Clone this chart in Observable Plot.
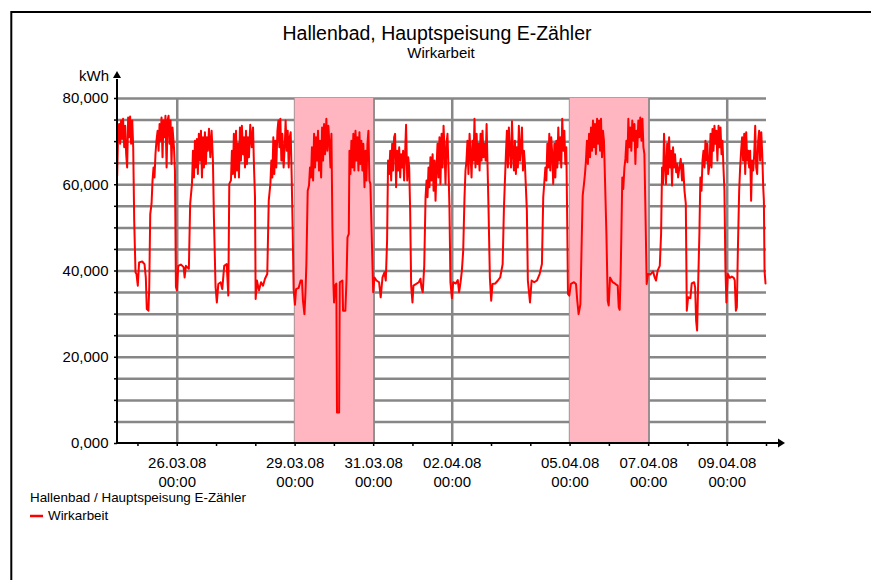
<!DOCTYPE html>
<html><head><meta charset="utf-8">
<script src="https://cdn.jsdelivr.net/npm/d3@7"></script>
<script src="https://cdn.jsdelivr.net/npm/@observablehq/plot@0.6"></script>
<style>
html,body{margin:0;padding:0;background:#fff;}
#chart{position:relative;width:871px;height:580px;overflow:hidden;}
#chart svg{display:block;}
</style></head><body><div id="chart"></div>
<script>
const title = "Hallenbad, Hauptspeisung E-Zähler";
const subtitle = "Wirkarbeit";
const unit = "kWh";
const legendTitle = "Hallenbad / Hauptspeisung E-Zähler";
const seriesName = "Wirkarbeit";
const seriesStart = "24.03.08 00:00";

// hours since seriesStart
const hours = [
11.3,11.9,12.5,13.1,13.7,14.3,14.9,15.6,16.2,16.8,
17.4,18.0,18.6,19.2,19.8,20.5,21.1,21.7,22.5,23.1,
23.9,24.7,26.6,28.0,28.8,29.4,30.4,30.9,31.5,32.3,
32.9,33.5,34.1,34.7,35.3,36.0,36.6,37.2,37.8,38.4,
39.0,39.6,40.2,40.8,41.5,42.1,42.7,43.3,43.9,44.5,
45.1,46.0,46.6,47.2,47.8,48.6,50.2,51.9,52.5,53.3,
55.1,55.9,57.0,57.6,58.2,58.8,59.4,60.0,60.6,61.2,
61.8,62.5,63.1,63.7,64.3,64.9,65.5,66.1,66.7,67.4,
68.2,69.0,69.8,70.4,71.4,72.2,73.1,74.5,75.5,76.7,
78.2,79.2,79.8,80.8,81.4,82.0,82.6,83.3,83.9,84.5,
85.1,85.7,86.3,86.9,87.5,88.2,88.8,89.4,90.0,90.6,
91.2,91.8,92.6,93.5,94.3,94.9,95.5,95.9,96.7,97.9,
99.2,100.4,101.6,103.0,103.9,104.9,105.5,106.1,106.7,107.3,
107.9,108.5,109.2,109.8,110.4,111.0,111.6,112.2,113.0,113.8,
114.2,114.9,115.5,116.1,116.7,117.3,117.9,118.5,119.1,119.9,
120.6,122.2,123.4,124.2,124.8,125.7,126.3,126.9,127.7,128.5,
129.1,129.7,130.3,131.0,131.6,132.2,132.8,133.4,134.0,134.6,
135.2,135.9,136.5,137.1,137.7,138.3,139.1,139.7,140.3,140.9,
141.6,142.2,142.8,143.4,143.8,144.4,145.2,145.6,146.9,147.3,
148.9,149.3,150.7,151.4,152.0,152.8,153.2,153.8,154.4,155.0,
155.6,156.2,156.9,157.5,158.1,158.7,159.3,159.9,160.5,161.1,
161.7,162.4,163.0,163.6,164.2,164.8,165.4,166.0,166.8,167.7,
168.5,169.7,171.3,172.3,173.4,174.6,175.4,176.2,176.8,177.5,
178.1,178.7,179.3,179.9,180.5,181.1,181.7,182.3,182.9,183.6,
184.2,184.8,185.4,186.0,186.6,187.2,187.8,188.5,189.1,189.7,
190.3,190.9,191.7,192.3,194.0,195.6,196.6,197.2,198.0,198.9,
199.7,200.3,200.9,201.5,202.1,202.7,203.3,204.0,204.6,205.2,
205.8,206.4,207.0,207.6,208.2,208.8,209.5,210.1,210.7,211.3,
211.9,212.5,213.1,213.7,214.3,214.9,215.8,216.6,218.2,219.4,
220.2,221.1,221.9,222.7,223.5,224.1,224.7,225.3,225.9,226.6,
227.2,227.8,228.4,229.0,229.6,230.2,230.9,231.5,232.1,232.7,
233.3,233.9,234.5,235.1,235.7,236.4,237.0,237.6,238.2,239.0,
239.8,240.6,242.3,243.9,245.3,246.8,247.6,248.2,248.8,249.4,
250.0,250.6,251.2,251.9,252.5,253.1,253.7,254.3,254.9,255.5,
256.1,256.7,257.4,258.0,258.6,259.2,259.8,260.4,261.0,261.6,
262.2,263.5,264.5,266.1,267.8,269.4,270.8,271.6,272.2,272.9,
273.5,274.1,274.7,275.3,275.9,276.5,277.1,277.7,278.4,279.0,
279.6,280.2,280.8,281.4,282.0,282.6,283.2,283.9,284.5,285.1,
285.7,286.3,286.7,287.5,288.5,290.4,291.6,292.4,293.2,294.3,
295.1,295.7,296.5,297.1,297.7,298.3,298.9,299.6,300.2,300.8,
301.4,302.0,302.6,303.2,303.8,304.5,305.1,305.7,306.3,306.9,
307.5,308.1,308.7,309.3,310.2,311.0,311.6,312.4,314.0,315.7,
317.1,317.7,318.3,318.9,319.3,319.9,320.5,321.2,321.8,322.4,
323.0,323.6,324.2,324.8,325.4,326.0,326.7,327.3,327.9,328.5,
329.1,329.7,330.3,330.9,331.6,332.2,332.8,333.4,334.0,334.8,
335.6,337.1,338.7,339.7,340.5,341.5,342.8,343.6,344.2,344.8,
345.4,346.0,346.6,347.3,347.9,348.5,349.1,349.7,350.3,350.9,
351.5,352.1,352.8,353.4,354.0,354.8,355.6,356.4,357.0,357.9,
358.7,359.3,360.1,361.5,362.3,363.8,364.4,365.0,365.6,366.2,
367.0,367.6,368.3,368.9,369.5,370.1,370.7,371.3,371.9,372.5,
373.2,373.8,374.4,375.0,375.6,376.2,376.8,377.4,378.0,378.7,
379.3,379.9,380.5,381.1,381.7,382.3,382.9,383.5,384.4,385.6,
386.8,388.0,388.6,389.3,389.9,390.5,391.3,391.9,392.5,393.1,
393.7,394.4,395.0,395.6,396.2,396.8,397.4,398.0,398.6,399.2,
399.9,400.5,401.1,401.7,402.3,402.9,403.5,404.1,404.8,405.4,
406.0,406.4,406.8,407.4
];

// Wirkarbeit in kWh
const kwh = [
62.1,72.5,74.1,69.5,74.9,70.6,75.3,68.7,73.7,67.1,
64.0,75.6,71.0,75.8,69.5,74.9,68.7,51.7,39.7,39.3,
36.6,42.0,42.2,41.6,38.5,31.2,30.8,36.3,53.2,55.6,
61.0,64.0,61.7,67.1,70.2,72.5,67.9,74.1,70.2,75.6,
66.4,74.9,71.0,76.0,64.0,74.9,76.0,69.5,74.9,64.8,
73.3,68.7,63.3,36.3,35.5,41.2,41.5,40.9,38.5,41.2,
40.5,55.6,60.2,67.9,61.7,70.2,64.0,70.6,62.5,71.8,
65.6,72.5,61.7,71.0,64.0,72.2,64.8,71.0,67.9,73.0,
66.4,72.5,65.6,52.5,36.3,32.7,37.0,37.4,35.8,41.2,
41.6,34.3,60.2,61.0,67.9,62.5,71.8,61.7,72.5,63.3,
69.5,61.7,73.3,65.6,73.7,67.1,71.0,64.0,72.5,64.8,
71.0,66.4,73.9,68.7,73.3,64.0,57.1,33.5,37.8,35.5,
37.4,36.6,38.2,39.3,56.3,60.2,65.6,61.7,71.0,62.5,
70.2,64.0,72.5,74.9,68.7,75.3,65.6,71.8,64.0,70.2,
74.9,67.9,72.5,64.0,71.0,72.2,62.1,50.1,35.8,32.2,
35.8,36.1,37.8,37.8,33.1,30.0,34.7,41.6,58.6,59.8,
64.0,61.7,68.7,61.0,71.8,64.0,71.0,65.6,72.5,63.3,
70.2,61.7,73.3,65.6,74.1,67.1,75.3,67.9,73.7,70.2,
64.0,71.8,50.1,37.0,32.7,36.6,37.1,7.2,7.2,37.4,
37.8,30.8,30.8,37.8,47.8,48.6,67.9,62.5,70.2,64.0,
71.8,63.3,72.5,65.6,71.0,63.3,72.2,64.8,70.2,63.3,
69.5,59.4,67.9,61.0,69.5,72.5,61.0,60.2,48.6,35.1,
38.5,37.8,37.4,33.9,38.5,39.7,37.8,47.0,65.6,62.5,
67.9,61.0,69.5,63.3,71.0,71.8,59.4,67.9,63.3,68.7,
61.7,67.1,64.0,67.9,61.0,67.1,73.9,61.0,66.4,64.0,
54.0,36.6,32.7,36.6,37.0,37.4,38.2,36.2,35.1,41.2,
57.1,61.0,57.1,64.0,59.4,66.4,61.0,67.1,58.6,65.6,
56.3,64.0,69.5,61.7,71.0,60.2,71.8,64.0,73.7,67.9,
60.2,69.5,71.8,64.0,54.8,37.4,33.7,37.4,37.1,37.9,
35.1,37.4,40.1,44.7,57.1,63.3,65.6,70.2,62.5,71.8,
67.1,61.7,70.2,65.6,75.3,64.0,71.8,64.8,69.5,63.3,
71.8,65.6,72.5,66.4,69.5,65.6,74.1,64.0,54.0,38.5,
33.1,37.0,37.1,37.8,38.5,41.6,54.8,61.0,67.1,72.5,
64.0,73.3,67.9,64.0,74.7,67.1,63.3,70.2,62.5,68.7,
64.0,73.7,65.6,68.7,73.3,63.3,67.9,64.8,59.4,54.0,
37.8,32.7,37.8,37.4,37.8,39.3,41.6,57.1,60.2,64.0,
61.0,69.5,64.0,71.8,63.3,71.0,67.1,60.2,69.5,61.7,
70.2,64.0,73.3,65.6,71.0,64.0,75.3,67.9,72.5,64.8,
68.7,50.1,34.7,34.3,37.0,37.4,37.0,33.1,30.0,32.3,
47.0,57.5,60.2,62.5,65.6,70.2,64.8,71.8,66.4,73.3,
67.9,74.9,68.7,74.1,67.1,75.3,69.5,74.9,67.9,75.3,
66.4,72.5,70.2,61.7,48.6,33.1,32.0,38.5,37.4,37.0,
36.6,31.6,31.0,39.3,47.8,61.7,59.0,64.0,66.0,70.2,
65.2,75.3,68.7,73.3,67.9,74.9,70.2,74.1,64.8,72.5,
68.7,74.9,71.0,75.6,70.2,75.3,68.7,67.1,54.8,37.0,
39.3,39.2,39.9,38.5,37.8,40.1,41.2,48.6,64.0,60.2,
71.8,64.8,60.2,69.5,62.5,71.0,64.0,67.9,59.8,68.7,
64.0,67.1,62.9,64.8,61.7,64.0,66.0,61.0,64.8,58.6,
55.6,30.8,33.9,33.7,37.1,37.4,36.2,28.5,26.2,36.2,
48.6,61.7,58.6,65.6,67.9,64.0,70.2,65.6,69.5,62.5,
64.8,71.8,64.0,72.9,67.9,73.7,69.5,72.5,65.6,73.7,
68.7,73.3,67.1,70.2,64.0,58.6,40.9,32.7,39.3,38.4,
38.7,38.4,37.8,30.8,31.6,44.7,58.6,64.0,67.9,71.0,
65.6,71.8,62.5,72.2,65.6,67.9,64.0,67.9,56.3,65.6,
63.3,67.1,73.7,64.0,62.5,70.2,72.5,65.6,72.2,67.1,
59.4,56.3,40.1,37.1
];

const xTickLabels = ["26.03.08 00:00","29.03.08 00:00","31.03.08 00:00","02.04.08 00:00","05.04.08 00:00","07.04.08 00:00","09.04.08 00:00"];
const weekendStarts = ["29.03.08 00:00","05.04.08 00:00"];
const weekendEnds = ["31.03.08 00:00","07.04.08 00:00"];
const xDomainLabels = ["24.03.08 11:30","10.04.08 00:00"];
const yDomain = [0, 80];
const yGridStep = 5;
const yLabelStep = 20;

const parseTime = d3.utcParse("%d.%m.%y %H:%M");
const t0 = parseTime(seriesStart);
const nPts = Math.min(hours.length, kwh.length);
const data = d3.range(nPts).map(i => ({t: new Date(+t0 + hours[i] * 3600e3), v: kwh[i]}));
const xTicks = xTickLabels.map(parseTime);
const weekends = weekendStarts.map((s, i) => ({start: parseTime(s), end: parseTime(weekendEnds[i])}));
const xDomain = xDomainLabels.map(parseTime);
const dayTicks = d3.utcDay.range(xDomain[0], d3.utcDay.offset(xDomain[1], 1));
const yTicks = d3.range(yDomain[0], yDomain[1] + yGridStep / 2, yGridStep);
const deLocale = d3.formatLocale({decimal: ",", thousands: ".", grouping: [3], currency: ["", "€"]});
const fmtVal = deLocale.format(".3f");
const fontFam = "'Liberation Sans', Arial, Helvetica, sans-serif";
const gridColor = "#878787";

const chart = Plot.plot({
  width: 871, height: 580,
  marginLeft: 117, marginRight: 105, marginTop: 98, marginBottom: 137,
  style: {fontFamily: fontFam, fontSize: "15px", color: "#000", background: "#fff", overflow: "visible"},
  x: {type: "utc", domain: xDomain},
  y: {domain: yDomain},
  marks: [
    Plot.ruleY(yTicks.filter(d => d > yDomain[0]), {stroke: gridColor, strokeWidth: 2.5}),
    Plot.ruleX(xTicks, {stroke: gridColor, strokeWidth: 2.5}),
    Plot.rect(weekends, {x1: "start", x2: "end", fill: "#FFB6C1"}),
    Plot.line(data, {x: "t", y: "v", stroke: "#FF0000", strokeWidth: 2, strokeLinejoin: "round"}),
    Plot.axisY({ticks: yTicks, tickSize: 3, tickPadding: 6, strokeWidth: 1.5,
      tickFormat: d => d % yLabelStep === 0 ? fmtVal(d) : "", label: null, fontSize: 15}),
    Plot.axisX({ticks: dayTicks, tickSize: 3, tickFormat: () => "", label: null, strokeWidth: 1.5}),
    Plot.axisX({ticks: xTicks, tickSize: 0, tickPadding: 11,
      tickFormat: d3.utcFormat("%d.%m.%y\n%H:%M"), label: null, fontSize: 15, lineHeight: 1.27})
  ]
});

const svgSel = d3.select(chart);
const xs = chart.scale("x"), ys = chart.scale("y");
const pL = xs.range[0], pR = xs.range[1], pB = ys.range[0], pT = ys.range[1];
const gExtra = svgSel.append("g").attr("font-family", fontFam).attr("text-anchor", "start");

// axis lines with arrow heads
gExtra.append("line").attr("x1", pL).attr("x2", pL).attr("y1", pB + 1).attr("y2", pT - 19)
  .attr("stroke", "#000").attr("stroke-width", 2);
gExtra.append("polygon").attr("points", `${pL - 4},${pT - 20} ${pL + 4},${pT - 20} ${pL},${pT - 27}`).attr("fill", "#000");
gExtra.append("line").attr("x1", pL - 1).attr("x2", pR + 12).attr("y1", pB).attr("y2", pB)
  .attr("stroke", "#000").attr("stroke-width", 2);
gExtra.append("polygon").attr("points", `${pR + 12},${pB - 4.5} ${pR + 12},${pB + 4.5} ${pR + 19},${pB}`).attr("fill", "#000");

// unit label
gExtra.append("text").attr("x", pL - 8).attr("y", pT - 17).attr("text-anchor", "end")
  .attr("font-size", 15).text(unit);

// title & subtitle
gExtra.append("text").attr("x", 437).attr("y", 40).attr("text-anchor", "middle")
  .attr("font-size", 19.5).text(title);
gExtra.append("text").attr("x", 441).attr("y", 57.5).attr("text-anchor", "middle")
  .attr("font-size", 15).text(subtitle);

// legend
gExtra.append("text").attr("x", 30).attr("y", 502).attr("text-anchor", "start")
  .attr("font-size", 13.4).text(legendTitle);
gExtra.append("line").attr("x1", 30).attr("x2", 43).attr("y1", 516).attr("y2", 516)
  .attr("stroke", "#FF0000").attr("stroke-width", 2.5);
gExtra.append("text").attr("x", 48).attr("y", 520).attr("text-anchor", "start")
  .attr("font-size", 13.4).text(seriesName);

// outer frame (top and left edges visible)
gExtra.append("path").attr("d", "M11.3,600 V12 H900").attr("fill", "none")
  .attr("stroke", "#000").attr("stroke-width", 2);

document.getElementById("chart").appendChild(chart);
</script>
</body></html>
